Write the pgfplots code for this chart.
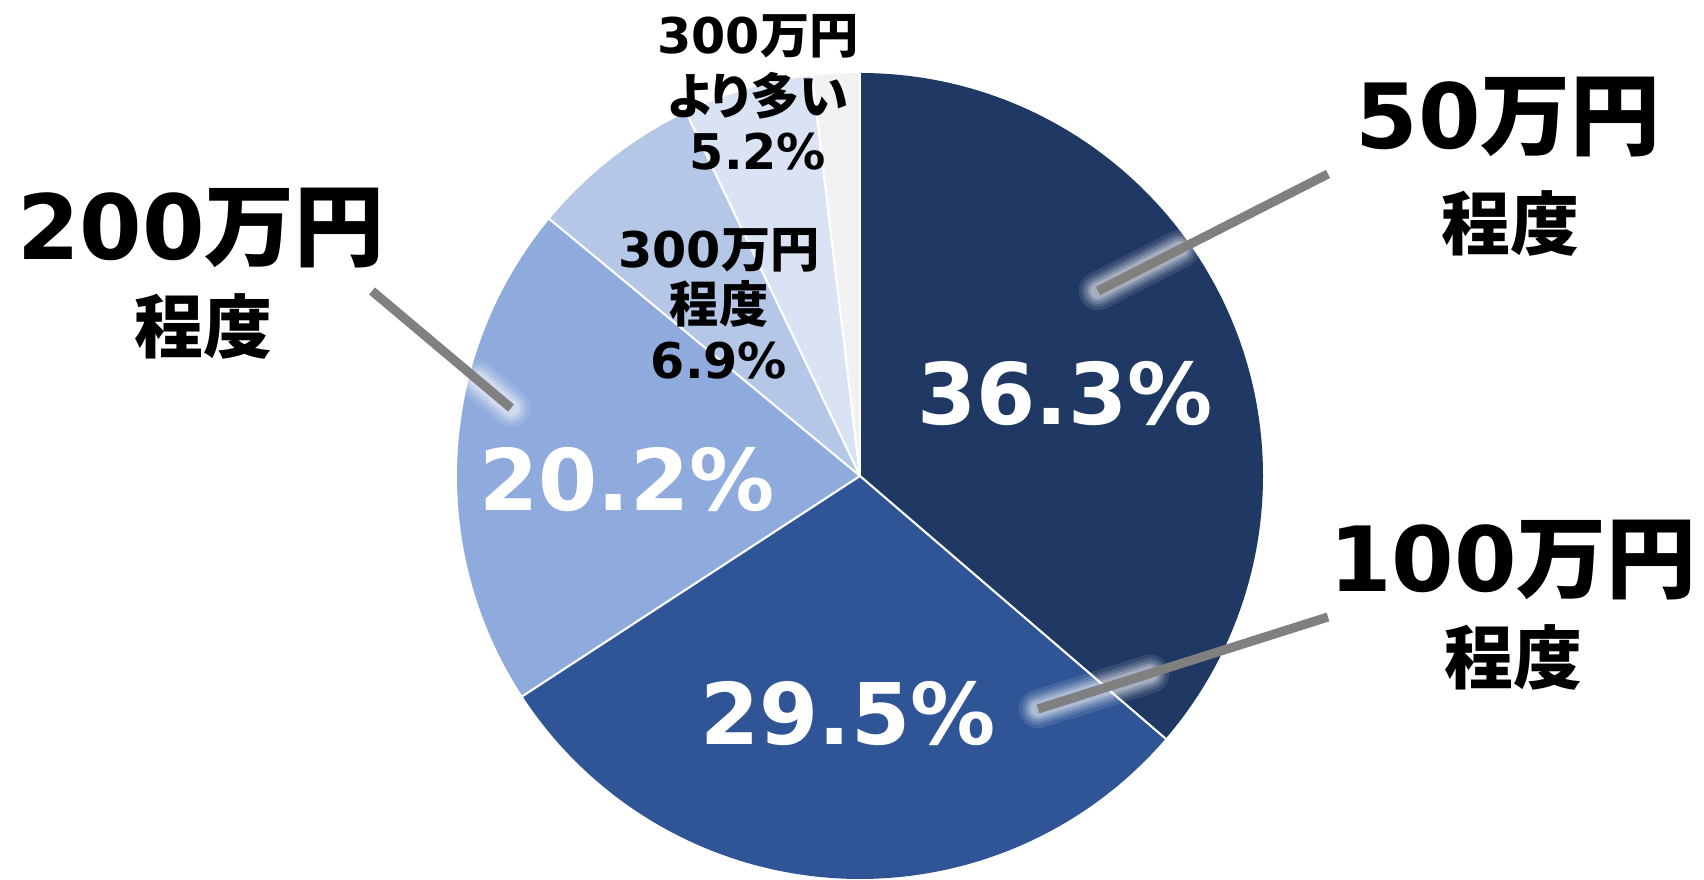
\documentclass[border=0pt]{standalone}
\usepackage{pgfplots}
\pgfplotsset{compat=1.18}
\usepackage{fontspec}
\setmainfont{DejaVu Sans}
\newfontfamily\cjk{Noto Sans CJK JP}
\newfontfamily\cjkp{Noto Sans CJK JP}[RawFeature=+palt]
\newcommand\jp[1]{{\cjk\bfseries #1}}
\newcommand\jpp[1]{{\cjkp\bfseries #1}}
\definecolor{c1}{HTML}{203864}
\definecolor{c2}{HTML}{2F5597}
\definecolor{c3}{HTML}{8FAADC}
\definecolor{c4}{HTML}{B4C7E7}
\definecolor{c5}{HTML}{DAE3F3}
\definecolor{c6}{HTML}{F2F2F2}
\definecolor{lead}{HTML}{808080}
% shares in percent, clockwise from the top
\def\vA{36.3}\def\vB{29.5}\def\vC{20.2}\def\vD{6.9}\def\vE{5.2}\def\vF{1.9}
\pgfmathsetmacro\aA{90}
\pgfmathsetmacro\aB{\aA-3.6*\vA}
\pgfmathsetmacro\aC{\aB-3.6*\vB}
\pgfmathsetmacro\aD{\aC-3.6*\vC}
\pgfmathsetmacro\aE{\aD-3.6*\vD}
\pgfmathsetmacro\aF{\aE-3.6*\vE}
\pgfmathsetmacro\aG{\aF-3.6*\vF}
\def\R{40.3mm}
\newcommand\slice[3]{\fill[#1] (axis cs:860,404) -- ++(#2:\R) arc[start angle=#2,end angle=#3,radius=\R] -- cycle;}
\newcommand\spoke[1]{\draw[white,line width=0.6pt] (axis cs:860,404) -- ++(#1:\R);}
\newcommand\glow[2]{%
  \draw[white,opacity=0.10,line width=11pt,line cap=round] #1 -- #2;
  \draw[white,opacity=0.12,line width=9pt,line cap=round] #1 -- #2;
  \draw[white,opacity=0.15,line width=7.5pt,line cap=round] #1 -- #2;
  \draw[white,opacity=0.2,line width=6pt,line cap=round] #1 -- #2;
  \draw[white,opacity=0.25,line width=4.5pt,line cap=round] #1 -- #2;}
\begin{document}
\begin{tikzpicture}
\begin{axis}[x=0.1mm,y=0.1mm,xmin=0,xmax=1704,ymin=0,ymax=880,hide axis,clip=false,scale only axis]
\coordinate (BL) at (axis cs:0,0);
\coordinate (TR) at (axis cs:1704,880);
\slice{c1}{\aA}{\aB}
\slice{c2}{\aB}{\aC}
\slice{c3}{\aC}{\aD}
\slice{c4}{\aD}{\aE}
\slice{c5}{\aE}{\aF}
\slice{c6}{\aF}{\aG}
\spoke{\aA}\spoke{\aB}\spoke{\aC}\spoke{\aD}\spoke{\aE}\spoke{\aF}
% leader lines
\glow{(axis cs:1098,589)}{(axis cs:1180,631)}
\glow{(axis cs:1038,171)}{(axis cs:1150,206)}
\glow{(axis cs:511,472)}{(axis cs:478,500)}
\draw[lead,line width=2.6pt] (axis cs:1328,706) -- (axis cs:1098,589);
\draw[lead,line width=2.6pt] (axis cs:1328,263) -- (axis cs:1038,171);
\draw[lead,line width=2.6pt] (axis cs:372,589) -- (axis cs:511,472);
% big labels
\node[font=\fontsize{25.6}{28}\selectfont\bfseries] at (axis cs:1508,763) {50\jp{万円}};
\node[font=\fontsize{19.6}{22}\selectfont] at (axis cs:1510,657) {\jp{程度}};
\node[font=\fontsize{25.6}{28}\selectfont\bfseries] at (axis cs:1513,320) {100\jp{万円}};
\node[font=\fontsize{19.6}{22}\selectfont] at (axis cs:1513,223) {\jp{程度}};
\node[font=\fontsize{25.6}{28}\selectfont\bfseries] at (axis cs:201,652) {200\jp{万円}};
\node[font=\fontsize{19.6}{22}\selectfont] at (axis cs:203,554) {\jp{程度}};
% percentages in slices
\node[white,font=\fontsize{24.2}{28}\selectfont\bfseries] at (axis cs:1065,486) {36.3\%};
\node[white,font=\fontsize{24.2}{28}\selectfont\bfseries] at (axis cs:627,400) {20.2\%};
\node[white,font=\fontsize{24.2}{28}\selectfont\bfseries] at (axis cs:848,166) {29.5\%};
% small labels
\node[font=\fontsize{14}{16}\selectfont\bfseries] at (axis cs:719,630) {300\jp{万円}};
\node[font=\fontsize{14}{16}\selectfont] at (axis cs:719,576) {\jp{程度}};
\node[font=\fontsize{14}{16}\selectfont\bfseries] at (axis cs:719,519) {6.9\%};
\node[font=\fontsize{14}{16}\selectfont\bfseries] at (axis cs:758,844) {300\jp{万円}};
\node[font=\fontsize{14}{16}\selectfont] at (axis cs:758,784) {\jpp{より多い}};
\node[font=\fontsize{14}{16}\selectfont\bfseries] at (axis cs:758,728) {5.2\%};
\end{axis}
\pgfresetboundingbox
\useasboundingbox (BL) rectangle (TR);
\end{tikzpicture}
\end{document}
